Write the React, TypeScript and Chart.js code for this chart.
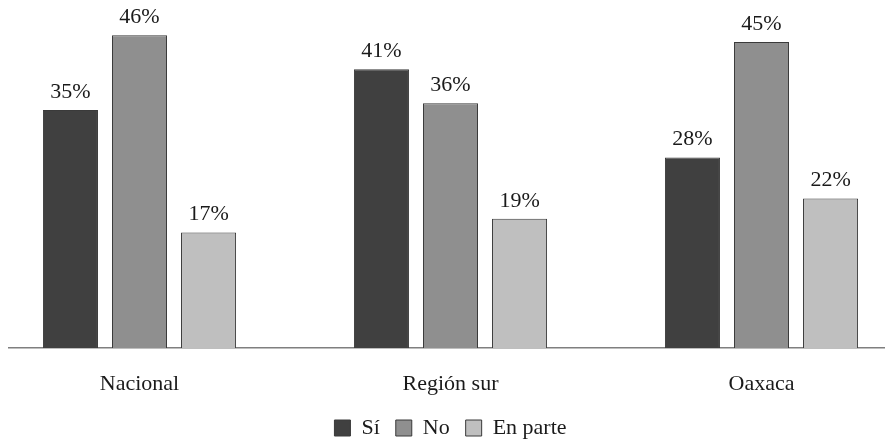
import React, { useEffect, useRef } from "react";
import { Chart, registerables } from "chart.js";

Chart.register(...registerables);

const categories = ["Nacional", "Región sur", "Oaxaca"];
const seriesNames = ["Sí", "No", "En parte"];
const siValues = [35, 41, 28];
const noValues = [46, 36, 45];
const enParteValues = [17, 19, 22];
const seriesColors = ["#404040", "#8f8f8f", "#bfbfbf"];

const FONT = "'Liberation Serif', 'Times New Roman', serif";

const valueLabels = {
  id: "valueLabels",
  afterDatasetsDraw(chart: any) {
    const ctx = chart.ctx;
    ctx.save();
    ctx.font = `22px ${FONT}`;
    ctx.fillStyle = "#1a1a1a";
    ctx.textAlign = "center";
    ctx.textBaseline = "bottom";
    chart.data.datasets.forEach((ds: any, i: number) => {
      const meta = chart.getDatasetMeta(i);
      meta.data.forEach((el: any, j: number) => {
        ctx.fillText(`${ds.data[j]}%`, el.x, el.y - 7);
      });
    });
    ctx.restore();
  },
};

export default function App() {
  const ref = useRef<HTMLCanvasElement>(null);
  useEffect(() => {
    if (!ref.current) return;
    const values = [siValues, noValues, enParteValues];
    const chart = new Chart(ref.current, {
      type: "bar",
      data: {
        labels: categories,
        datasets: seriesNames.map((name, i) => ({
          label: name,
          data: values[i],
          backgroundColor: seriesColors[i],
          borderColor: "#3a3a3a",
          borderWidth: 1,
          categoryPercentage: 0.666,
          barPercentage: 0.797,
        })),
      },
      options: {
        animation: false,
        responsive: false,
        maintainAspectRatio: false,
        layout: { padding: { top: 8, left: 0, right: 0, bottom: 0 } },
        plugins: {
          tooltip: { enabled: false },
          legend: {
            position: "bottom",
            labels: {
              boxWidth: 16,
              boxHeight: 16,
              padding: 16,
              color: "#1a1a1a",
              font: { family: FONT, size: 22 },
            },
          },
        },
        scales: {
          x: {
            grid: { display: false, drawTicks: false },
            border: { display: true, color: "#7f7f7f", width: 1.5 },
            ticks: {
              color: "#1a1a1a",
              padding: 23,
              font: { family: FONT, size: 22 },
            },
            afterFit(scale: any) {
              scale.height = 53;
            },
          },
          y: {
            display: false,
            min: 0,
            max: 50,
          },
        },
      },
      plugins: [valueLabels],
    });
    return () => chart.destroy();
  }, []);
  return (
    <div
      style={{
        position: "fixed",
        left: 8,
        top: 0,
        width: 877,
        height: 443,
        overflow: "hidden",
        background: "#fff",
      }}
    >
      <canvas
        ref={ref}
        width={933}
        height={449}
        style={{ position: "absolute", left: -24, top: 0, width: 933, height: 449 }}
      />
    </div>
  );
}
